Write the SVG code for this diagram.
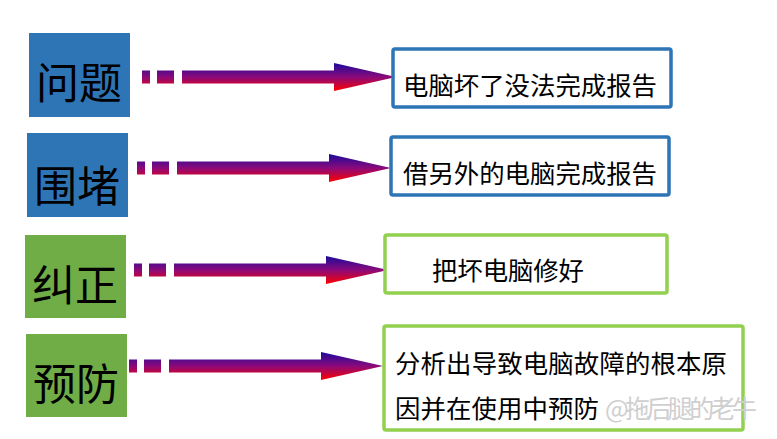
<svg xmlns="http://www.w3.org/2000/svg" width="777" height="439" viewBox="0 0 777 439">
<style>
.lbl{font-family:"Noto Sans CJK SC","Noto Sans",sans-serif;font-size:43px;fill:#000;text-anchor:middle;dominant-baseline:central}
.blue{fill:#2E75B6}
.green{fill:#70AD47}
.bb{fill:#fff;stroke:#2E75B6;stroke-width:3.5}
.gb{fill:#fff;stroke:#92D050;stroke-width:3.5}
.t{font-family:"Noto Sans CJK SC","Noto Sans",sans-serif;font-size:25.4px;fill:#000;dominant-baseline:central}
.wm{font-family:"Noto Sans CJK SC","Noto Sans",sans-serif;font-size:25px;fill:#cfcfcf;dominant-baseline:central}
</style>
<defs>
<linearGradient id="ag" x1="0" y1="0" x2="0" y2="1">
<stop offset="0" stop-color="#1A0A9E"/>
<stop offset="0.5" stop-color="#8A0A7A"/>
<stop offset="1" stop-color="#FF0000"/>
</linearGradient>
<path id="arrow" fill="url(#ag)" d="M0,-6.5H8V6.5H0Z M15,-6.5H32V6.5H15Z M40,-6.5H192V-14L254,0L192,14V6.5H40Z"/>
</defs>
<g id="connectors">
<use href="#arrow" transform="translate(142,77)"/>
<use href="#arrow" transform="translate(137,168)"/>
<use href="#arrow" transform="translate(134,270)"/>
<use href="#arrow" transform="translate(129,366)"/>
</g>
<g id="n-wenti"><rect class="blue" x="29" y="33" width="101" height="84"/><text class="lbl" x="79" y="80">问题</text></g>
<g id="n-weidu"><rect class="blue" x="27" y="133" width="101" height="84"/><text class="lbl" x="77" y="183">围堵</text></g>
<g id="n-jiuzheng"><rect class="green" x="25" y="235" width="101" height="83"/><text class="lbl" x="75" y="282">纠正</text></g>
<g id="n-yufang"><rect class="green" x="26" y="334" width="101" height="83"/><text class="lbl" x="76" y="381">预防</text></g>
<g id="b1"><rect class="bb" x="393" y="49" width="278" height="58" rx="2"/><text class="t" x="403" y="84" textLength="254">电脑坏了没法完成报告</text></g>
<g id="b2"><rect class="bb" x="391" y="137" width="278" height="58" rx="2"/><text class="t" x="403" y="172" textLength="254">借另外的电脑完成报告</text></g>
<g id="b3"><rect class="gb" x="385" y="235" width="282" height="58" rx="2"/><text class="t" x="432" y="269" textLength="152">把坏电脑修好</text></g>
<g id="b4"><rect class="gb" x="384" y="326" width="359" height="104" rx="2"/><text class="t" x="395" y="362" textLength="332">分析出导致电脑故障的根本原</text><text class="t" x="395" y="407" textLength="204">因并在使用中预防</text></g>
<text class="wm" x="605" y="407" textLength="152">@拖后腿的老牛</text>
</svg>
